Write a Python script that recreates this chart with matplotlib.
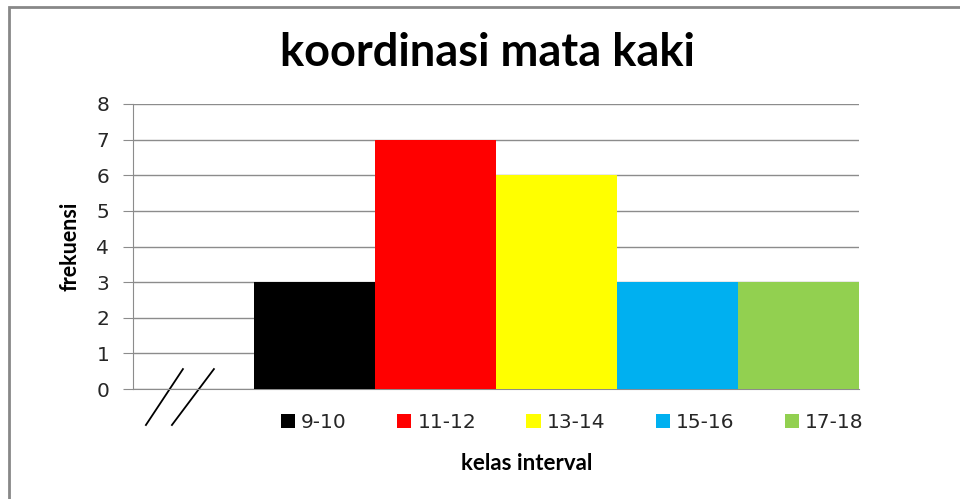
import numpy as np
import matplotlib
matplotlib.use("Agg")
import matplotlib.pyplot as plt
from matplotlib.patches import Rectangle

# data
kelas = ["9-10", "11-12", "13-14", "15-16", "17-18"]
frekuensi = [3, 7, 6, 3, 3]
warna = ["#000000", "#FF0000", "#FFFF00", "#00B0F0", "#92D050"]

fig = plt.figure(figsize=(9.6, 4.99), dpi=100)
ax = fig.add_axes([0.1385, 0.2204, 0.7563, 0.5712])

# first slot stays empty, bars fill slots 1..5
pos = np.arange(len(kelas)) + 1.5
bars = ax.bar(pos, frekuensi, width=1.0, color=warna, zorder=3)

ax.set_xlim(0, 6)
ax.set_ylim(0, 8)
ax.set_yticks(range(0, 9))
ax.set_xticks([])
ax.grid(axis="y", color="#8c8c8c", linewidth=1.0, zorder=0)
for s in ["top", "right"]:
    ax.spines[s].set_visible(False)
ax.spines["left"].set_color("#8c8c8c")
ax.spines["bottom"].set_color("#8c8c8c")
ax.tick_params(axis="y", length=7, color="#8c8c8c", labelsize=14.5,
               labelcolor="#262626", pad=10)

# axis break marks
ax.plot([0.107, 0.413], [-1.01, 0.56], color="black", lw=1.3, clip_on=False)
ax.plot([0.322, 0.669], [-1.01, 0.56], color="black", lw=1.3, clip_on=False)

fig.text(0.508, 0.893, "koordinasi mata kaki", ha="center", va="center",
         fontsize=32.5, fontweight="bold", family="Lato")
fig.text(0.073, 0.507, "frekuensi", rotation=90, ha="center", va="center",
         fontsize=15.5, fontweight="bold", family="Lato")
fig.text(0.549, 0.072, "kelas interval", ha="center", va="center",
         fontsize=16, fontweight="bold", family="Lato")

fig.legend(bars, kelas, loc="center", bbox_to_anchor=(0.596, 0.154), ncol=5,
           frameon=False, fontsize=14.5, handlelength=0.7, handleheight=0.7,
           handletextpad=0.3, columnspacing=2.5, labelcolor="#262626")

# chart border (left and top visible)
fig.patches.append(Rectangle((0.009, -0.05), 1.2, 1.036,
                             transform=fig.transFigure, fill=False,
                             edgecolor="#888888", linewidth=2))

fig.savefig("out.png", dpi=100)
